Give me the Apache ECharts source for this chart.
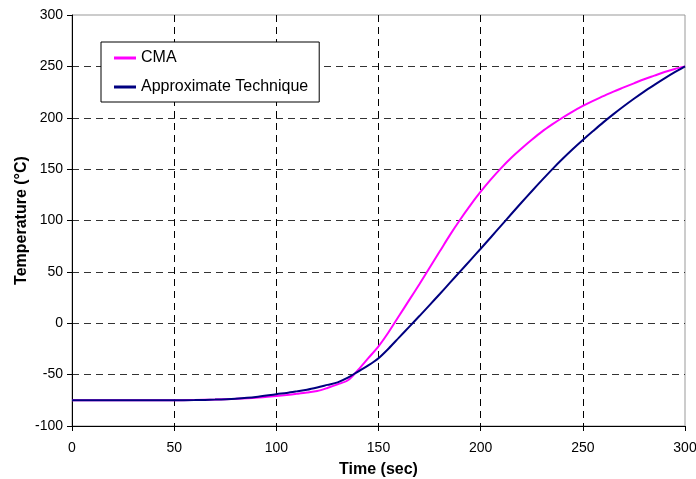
<!DOCTYPE html>
<html>
<head>
<meta charset="utf-8">
<script src="https://cdn.jsdelivr.net/npm/echarts@6/dist/echarts.min.js"></script>
<style>
  html, body { margin: 0; padding: 0; background: #fff; }
  #chart { width: 696px; height: 479px; }
</style>
</head>
<body>
<div id="chart"></div>
<script>
// values (time in sec, temperature in °C)
const cmaTime = [0, 10, 20, 30, 40, 50, 60, 70, 80, 90, 100, 105, 110, 115, 120, 125, 130, 135, 140, 145, 150, 155, 160, 165, 170, 175, 180, 185, 190, 195, 200, 205, 210, 215, 220, 225, 230, 235, 240, 245, 250, 255, 260, 265, 270, 275, 280, 285, 290, 295, 300];
const cmaTemp = [-75, -75, -75, -75, -75, -75, -74.7, -74.2, -73.5, -72.5, -70.8, -69.8, -68.7, -67.5, -66, -63, -59.5, -55.5, -45.5, -34, -22.5, -8.5, 7, 22.5, 38, 54, 70, 86, 101, 115, 128, 140, 151, 161, 170, 178.5, 186.5, 193.5, 200, 206, 211.5, 216.5, 221, 225.5, 229.5, 233.5, 237.5, 241, 244.5, 247.5, 250];

const approxTime = [0, 10, 20, 30, 40, 50, 60, 70, 80, 90, 100, 105, 110, 115, 120, 125, 130, 135, 140, 145, 150, 155, 160, 165, 170, 175, 180, 185, 190, 195, 200, 205, 210, 215, 220, 225, 230, 235, 240, 245, 250, 255, 260, 265, 270, 275, 280, 285, 290, 295, 300];
const approxTemp = [-75, -75, -75, -75, -75, -75, -74.8, -74.3, -73.4, -71.8, -69, -67.8, -66.3, -64.7, -62.5, -60, -57.5, -53, -47, -41, -34, -24.5, -14, -3.5, 7, 17.7, 28.5, 39.5, 50.5, 61.5, 72.5, 83.7, 95, 106.3, 117.5, 128.5, 139.3, 149.8, 159.8, 169.3, 178.3, 187, 195.5, 203.5, 211.2, 218.5, 225.5, 232, 238.3, 244.3, 250];

const xTicks = { min: 0, max: 300, interval: 50 };
const yTicks = { min: -100, max: 300, interval: 50 };

const pair = (xs, ys) => xs.map((x, i) => [x, ys[i]]);

const chart = echarts.init(document.getElementById("chart"));

const font = "'Liberation Sans', Arial, sans-serif";

const option = {
  animation: false,
  textStyle: { fontFamily: font },
  grid: {
    left: 72,
    right: 11,
    top: 15,
    bottom: 53,
    outerBoundsMode: "none",
    containLabel: false,
    show: true,
    borderColor: "#999",
    borderWidth: 1,
    backgroundColor: "transparent",
  },
  legend: {
    orient: "vertical",
    left: 101,
    top: 42,
    padding: [8, 11, 7, 13],
    itemGap: 13,
    itemWidth: 22,
    itemHeight: 3,
    icon: "rect",
    borderColor: "#000",
    borderWidth: 1,
    backgroundColor: "#fff",
    textStyle: { fontFamily: font, fontSize: 16, color: "#000" },
    data: ["CMA", "Approximate Technique"],
  },
  xAxis: {
    type: "value",
    min: xTicks.min,
    max: xTicks.max,
    interval: xTicks.interval,
    name: "Time (sec)",
    nameLocation: "middle",
    nameGap: 36,
    nameTextStyle: { fontFamily: font, fontSize: 16, fontWeight: "bold", color: "#000" },
    axisLine: { onZero: false, lineStyle: { color: "#000", width: 1 } },
    axisTick: { show: true, length: 5, lineStyle: { color: "#000" } },
    axisLabel: { fontFamily: font, fontSize: 14, color: "#000", margin: 15 },
    splitLine: {
      show: true,
      showMinLine: false,
      showMaxLine: false,
      lineStyle: { color: "#000", type: [7, 5], width: 1 },
    },
  },
  yAxis: {
    type: "value",
    min: yTicks.min,
    max: yTicks.max,
    interval: yTicks.interval,
    name: "Temperature (°C)",
    nameLocation: "middle",
    nameGap: 42,
    nameMoveOverlap: false,
    nameTextStyle: { fontFamily: font, fontSize: 16, fontWeight: "bold", color: "#000" },
    axisLine: { show: true, onZero: false, lineStyle: { color: "#000", width: 1 } },
    axisTick: { show: true, length: 5, lineStyle: { color: "#000" } },
    axisLabel: { fontFamily: font, fontSize: 14, color: "#000", margin: 9 },
    splitLine: {
      show: true,
      showMinLine: false,
      showMaxLine: false,
      lineStyle: { color: "#333", type: [7, 5], width: 1 },
    },
  },
  series: [
    {
      name: "CMA",
      type: "line",
      data: pair(cmaTime, cmaTemp),
      smooth: 0.3,
      symbol: "none",
      lineStyle: { color: "#ff00ff", width: 2 },
      itemStyle: { color: "#ff00ff" },
      z: 3,
    },
    {
      name: "Approximate Technique",
      type: "line",
      data: pair(approxTime, approxTemp),
      smooth: 0.3,
      symbol: "none",
      lineStyle: { color: "#000080", width: 2 },
      itemStyle: { color: "#000080" },
      z: 4,
    },
  ],
};

chart.setOption(option);
</script>
</body>
</html>
